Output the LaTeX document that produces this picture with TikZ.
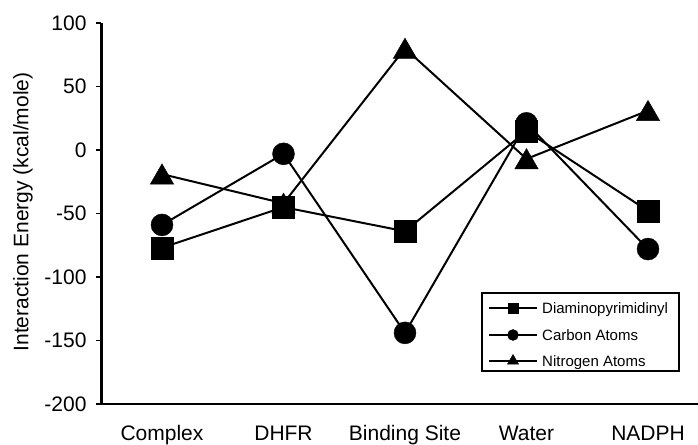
\documentclass[tikz,border=0pt]{standalone}
\usepackage{fontspec}
\setmainfont{Liberation Sans}
\usetikzlibrary{plotmarks}
\begin{document}
\begin{tikzpicture}[x=1pt,y=1pt,
    axisline/.style={line width=2.5pt},
    series/.style={line width=2pt,mark options={solid,fill=black,line width=0.4pt}},
    trimark/.style={mark=triangle*,mark options={solid,fill=black,line width=0.4pt,yshift=-3.2pt}},
    lab/.style={font=\fontsize{21}{25}\selectfont,inner sep=0pt},
    leglab/.style={font=\fontsize{15}{18}\selectfont,inner sep=0pt,anchor=base west}]
  \useasboundingbox (0,0) rectangle (698,444);
  \node[lab,rotate=90] (ylab) at (23,232) {Interaction Energy (kcal/mole)};
  \begin{scope}[shift={(162,294)},x=121.5pt,y=1.27pt]
    \draw[axisline] (-0.5,100) -- (-0.5,-200) -- (4.42,-200);
    \foreach \y [count=\k] in {100,50,0,-50,-100,-150,-200}{
      \draw[line width=1.5pt] (-0.5,\y) -- ++(-5.5pt,0) node[lab,left=8.5pt] (tick\k) {\y};}
    \foreach \c [count=\i from 0] in {Complex,DHFR,Binding Site,Water,NADPH}
      \node[lab,anchor=base] (cat\i) at (\i,-228.5) {\c};

    \draw[series] plot[mark=square*,mark size=11pt] coordinates {(0,-77) (1,-45) (2,-64) (3,15) (4,-48)};
    \draw[series] plot[mark=*,mark size=11pt] coordinates {(0,-59) (1,-3) (2,-144) (3,21) (4,-78)};
    \draw[series] plot[trimark,mark size=13.5pt] coordinates {(0,-19) (1,-42) (2,80) (3,-7) (4,31)};
  \end{scope}

  % legend
  \draw[line width=1.5pt] (482,73) rectangle (679,151);
  \foreach \m/\ms/\t/\yy [count=\i] in {square*/5/Diaminopyrimidinyl/136,*/5.5/Carbon Atoms/109,triangle*/6.5/Nitrogen Atoms/83}{
    \draw[series] plot[mark=\m,mark size=\ms pt,mark indices={2}] coordinates {(489,\yy) (513,\yy) (537,\yy)};
    \node[leglab] (leg\i) at (542,\yy-5.4) {\t};}
\end{tikzpicture}
\end{document}
